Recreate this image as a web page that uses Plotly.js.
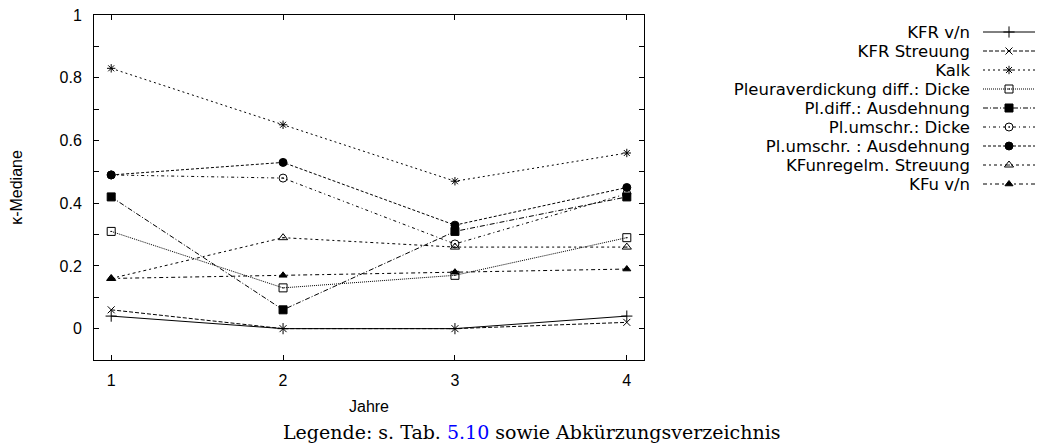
<!DOCTYPE html>
<html>
<head>
<meta charset="utf-8">
<script src="https://cdn.plot.ly/plotly-3.0.1.min.js"></script>
<style>
html,body{margin:0;padding:0;background:#fff;}
#chart{width:1037px;height:448px;}
</style>
</head>
<body>
<div id="chart"></div>
<script>
// ---- data ----
var years = [1, 2, 3, 4];
var seriesNames = [
  "KFR v/n",
  "KFR Streuung",
  "Kalk",
  "Pleuraverdickung diff.: Dicke",
  "Pl.diff.: Ausdehnung",
  "Pl.umschr.: Dicke",
  "Pl.umschr. : Ausdehnung",
  "KFunregelm. Streuung",
  "KFu v/n"
];
var kfrVn          = [0.04, 0.00, 0.00, 0.04];
var kfrStreuung    = [0.06, 0.00, 0.00, 0.02];
var kalk           = [0.83, 0.65, 0.47, 0.56];
var pleuraDiffDicke= [0.31, 0.13, 0.17, 0.29];
var plDiffAusd     = [0.42, 0.06, 0.31, 0.42];
var plUmschrDicke  = [0.49, 0.48, 0.27, 0.43];
var plUmschrAusd   = [0.49, 0.53, 0.33, 0.45];
var kfuStreuung    = [0.16, 0.29, 0.26, 0.26];
var kfuVn          = [0.16, 0.17, 0.18, 0.19];
var xTickVals = [1, 2, 3, 4];

var values = [kfrVn, kfrStreuung, kalk, pleuraDiffDicke, plDiffAusd, plUmschrDicke, plUmschrAusd, kfuStreuung, kfuVn];

// ---- styles ----
var dashes = ["solid", "4px,2px", "2px,3px", "1px,1px", "5px,2px,1px,2px", "3px,3px,1px,3px", "3px,2px", "3px,3px,2px,3px", "4px,3px,2px,3px"];
var symbols = ["cross-thin-open", "x-thin-open", "asterisk-open", "square-open-dot", "square", "circle-open-dot", "circle", "triangle-up-open-dot", "triangle-up"];
var sizes = [8, 7, 7, 8, 8, 8, 8, 8, 7];

var traces = values.map(function(v, i){
  return {
    x: years, y: v, name: seriesNames[i], type: "scatter", mode: "lines+markers",
    line: {color: "#000", width: 1, dash: dashes[i]},
    marker: {symbol: symbols[i], size: sizes[i], color: "#000", line: {color: "#000", width: 1}}
  };
});

var sansFont = "Liberation Sans, Arial, Helvetica, sans-serif";
var tickFont = {family: sansFont, size: 16, color: "#000"};

var layout = {
  width: 1037, height: 448,
  margin: {l: 94, r: 393, t: 15, b: 88, autoexpand: false},
  paper_bgcolor: "#fff", plot_bgcolor: "#fff",
  showlegend: true,
  legend: {x: 0.02, y: 0.98, xanchor: "left", yanchor: "top", font: {family: "DejaVu Sans, Liberation Sans, sans-serif", size: 16.5, color: "#000"}, bgcolor: "rgba(0,0,0,0)", itemwidth: 52},
  xaxis: {
    range: [0.9, 4.1], tickvals: xTickVals, ticks: "inside", ticklen: 5, tickcolor: "#000",
    showline: true, linecolor: "#000", linewidth: 1, mirror: "ticks", showgrid: false, zeroline: false,
    tickfont: tickFont, ticklabelstandoff: 6,
    title: {text: "Jahre", font: {family: sansFont, size: 16, color: "#000"}, standoff: 12}
  },
  yaxis: {
    range: [-0.1, 1], tick0: 0, dtick: 0.2, ticks: "inside", ticklen: 5, tickcolor: "#000",
    minor: {dtick: 0.1, ticks: "inside", ticklen: 5, tickcolor: "#000"},
    showline: true, linecolor: "#000", linewidth: 1, mirror: "ticks", showgrid: false, zeroline: false,
    tickfont: tickFont, ticklabelstandoff: 8,
    title: {text: "κ-Mediane", font: {family: sansFont, size: 16, color: "#000"}, standoff: 32}
  },
  annotations: [{
    xref: "paper", yref: "paper", x: 0.796, y: -0.21, xanchor: "center", yanchor: "middle", showarrow: false,
    text: 'Legende: s. Tab. <span style="color:#0000ff">5.10</span> sowie Abkürzungsverzeichnis',
    font: {family: "DejaVu Serif, Liberation Serif, serif", size: 19, color: "#000"}
  }]
};

var ROW = 19;
function fixLegend(gd){
  var leg = gd.querySelector(".legend");
  if(!leg) return;
  leg.querySelectorAll("[clip-path]").forEach(function(n){ n.removeAttribute("clip-path"); });
  var sb = leg.querySelector(".scrollbox");
  if(sb) sb.setAttribute("transform", "translate(0,0)");
  var items = leg.querySelectorAll("g.traces");
  items.forEach(function(g, i){
    g.setAttribute("transform", "translate(0," + (i * ROW) + ")");
    var t = g.querySelector("text.legendtext");
    if(t){ t.setAttribute("x", -13); t.setAttribute("text-anchor", "end"); t.style.textAnchor = "end"; }
    var ln = g.querySelector("path.js-line");
    if(ln) ln.setAttribute("d", "M0,0h52");
    g.querySelectorAll("path.scatterpts").forEach(function(p){ p.setAttribute("transform", "translate(26,0)"); });
  });
  leg.setAttribute("transform", "translate(983,32)");
}

Plotly.newPlot("chart", traces, layout, {displayModeBar: false, staticPlot: true}).then(function(gd){ fixLegend(gd); });
</script>
</body>
</html>
